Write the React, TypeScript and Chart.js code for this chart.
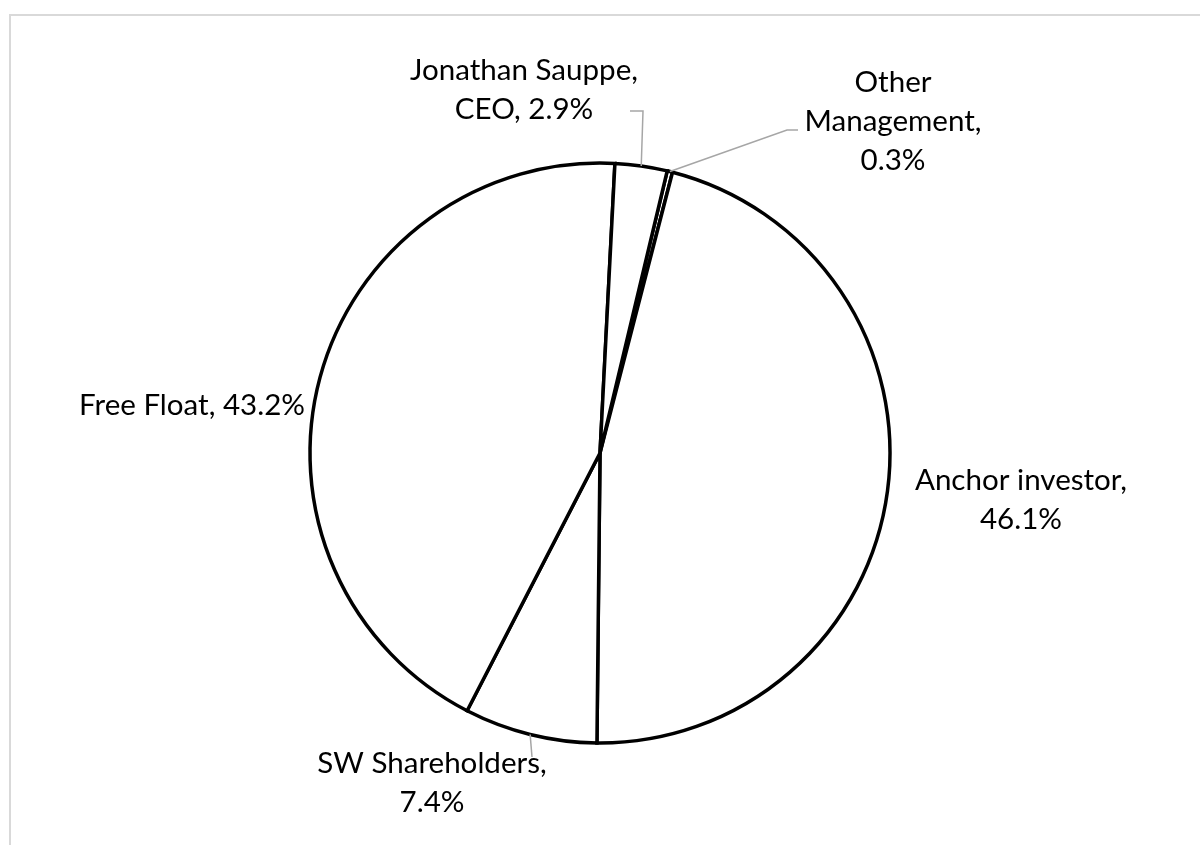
import { useEffect, useRef } from "react";
import { Chart, registerables } from "chart.js";

Chart.register(...registerables);

// ---- data ----
const categories = [
  "Other Management",
  "Anchor investor",
  "SW Shareholders",
  "Free Float",
  "Jonathan Sauppe, CEO",
];
const shares = [0.3, 46.1, 7.4, 43.2, 2.9];
const startRotationDeg = 13.4;

// ---- label layout (relative to pie centre) ----
type Layout = {
  x: number;
  baseline: number;
  align: "center" | "right";
  wrap: number;
  leader: number[][];
};
const labelLayout: Layout[] = [
  { x: 293, baseline: -361, align: "center", wrap: 200, leader: [[187, -323], [198, -323]] },
  { x: 421, baseline: 37, align: "center", wrap: 232, leader: [] },
  { x: -168, baseline: 320, align: "center", wrap: 255, leader: [[-68, 304]] },
  { x: -295, baseline: -38, align: "right", wrap: 420, leader: [] },
  { x: -76, baseline: -373, align: "center", wrap: 255, leader: [[43, -342], [30, -342]] },
];

const FONT_FAMILY = "Lato, 'Open Sans', sans-serif";
const LINE_HEIGHT = 39;

function wrapText(ctx: CanvasRenderingContext2D, text: string, maxW: number): string[] {
  const words = text.split(" ");
  const lines: string[] = [];
  let cur = "";
  for (const w of words) {
    const test = cur ? cur + " " + w : w;
    if (cur && ctx.measureText(test).width > maxW) {
      lines.push(cur);
      cur = w;
    } else {
      cur = test;
    }
  }
  if (cur) lines.push(cur);
  return lines;
}

const framePlugin = {
  id: "frame",
  beforeDraw(chart: any) {
    const ctx = chart.ctx as CanvasRenderingContext2D;
    ctx.save();
    ctx.fillStyle = "#ffffff";
    ctx.fillRect(0, 0, chart.width, chart.height);
    ctx.strokeStyle = "#d9d9d9";
    ctx.lineWidth = 2;
    ctx.strokeRect(10, 15, chart.width + 40, chart.height + 40);
    ctx.restore();
  },
};

const labelPlugin = {
  id: "pieLabels",
  afterDraw(chart: any) {
    const ctx = chart.ctx as CanvasRenderingContext2D;
    const meta = chart.getDatasetMeta(0);
    ctx.save();
    // fit font so that the reference label width is matched
    ctx.font = `31px ${FONT_FAMILY}`;
    const refW = ctx.measureText("Jonathan Sauppe,").width;
    const size = (31 * 228) / refW;
    ctx.font = `${size.toFixed(2)}px ${FONT_FAMILY}`;

    meta.data.forEach((arc: any, i: number) => {
      const p = arc.getProps(["x", "y", "startAngle", "endAngle", "outerRadius"], true);
      const cx = p.x;
      const cy = p.y;
      const mid = (p.startAngle + p.endAngle) / 2;
      const ax = cx + Math.cos(mid) * p.outerRadius;
      const ay = cy + Math.sin(mid) * p.outerRadius;
      const lay = labelLayout[i];

      if (lay.leader.length) {
        ctx.beginPath();
        ctx.strokeStyle = "#a6a6a6";
        ctx.lineWidth = 1.5;
        ctx.moveTo(ax, ay);
        lay.leader.forEach((pt) => ctx.lineTo(cx + pt[0], cy + pt[1]));
        ctx.stroke();
      }

      const text = `${categories[i]}, ${shares[i].toFixed(1)}%`;
      const lines = wrapText(ctx, text, lay.wrap);
      ctx.fillStyle = "#000000";
      ctx.textBaseline = "alphabetic";
      ctx.textAlign = lay.align;
      lines.forEach((ln, k) => {
        ctx.fillText(ln, cx + lay.x, cy + lay.baseline + k * LINE_HEIGHT);
      });
    });
    ctx.restore();
  },
};

export default function App() {
  const canvasRef = useRef<HTMLCanvasElement | null>(null);

  useEffect(() => {
    if (!canvasRef.current) return;
    const chart = new Chart(canvasRef.current, {
      type: "pie",
      data: {
        labels: categories,
        datasets: [
          {
            data: shares,
            backgroundColor: "#ffffff",
            borderColor: "#000000",
            borderWidth: 3.5,
            borderJoinStyle: "miter",
            radius: 290,
          } as any,
        ],
      },
      options: {
        responsive: false,
        animation: false,
        rotation: startRotationDeg,
        layout: { padding: { top: 61, bottom: 0, left: 0, right: 0 } },
        plugins: {
          legend: { display: false },
          tooltip: { enabled: false },
        },
      },
      plugins: [framePlugin, labelPlugin],
    });
    return () => chart.destroy();
  }, []);

  return (
    <canvas
      ref={canvasRef}
      width={1200}
      height={845}
      style={{ position: "fixed", left: 0, top: 0, width: 1200, height: 845 }}
    />
  );
}
